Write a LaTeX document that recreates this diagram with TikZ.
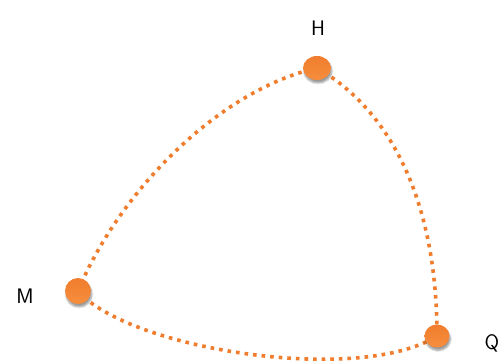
\documentclass[tikz,border=0pt]{standalone}
\usetikzlibrary{shadows.blur,shapes.geometric}
\definecolor{orng}{RGB}{240,125,45}
\definecolor{orngl}{RGB}{246,142,62}
\tikzset{
  ball/.style={ellipse, minimum width=26pt, minimum height=24pt, inner sep=0pt,
    top color=orng, bottom color=orngl, draw=none,
    blur shadow={shadow xshift=1pt, shadow yshift=-3pt, shadow blur steps=6, shadow opacity=40}},
  dotline/.style={orng, line width=3.6pt, dash pattern=on 3.6pt off 5pt},
  lbl/.style={font=\sffamily\fontsize{21}{24}\selectfont}
}
\begin{document}
\begin{tikzpicture}[x=1pt,y=-1pt]
\useasboundingbox (0,0) rectangle (502,360);
\coordinate (h) at (317,68);
\coordinate (m) at (78,291);
\coordinate (q) at (437,336);
\draw[dotline] (m) .. controls (120,190) and (220,90) .. (h);
\draw[dotline] (h) .. controls (390,110) and (437,200) .. (q);
\draw[dotline] (m) .. controls (130,350) and (360,385) .. (q);
\node[ball, minimum width=28pt, minimum height=24pt] (H) at (h) {};
\node[ball, minimum width=26pt, minimum height=26pt] (M) at (m) {};
\node[ball, minimum width=25pt, minimum height=23pt] (Q) at (q) {};
\node[lbl] (Hl) at (318,28) {H};
\node[lbl] (Ml) at (25,296) {M};
\node[lbl] (Ql) at (492,343) {Q};
\end{tikzpicture}
\end{document}
